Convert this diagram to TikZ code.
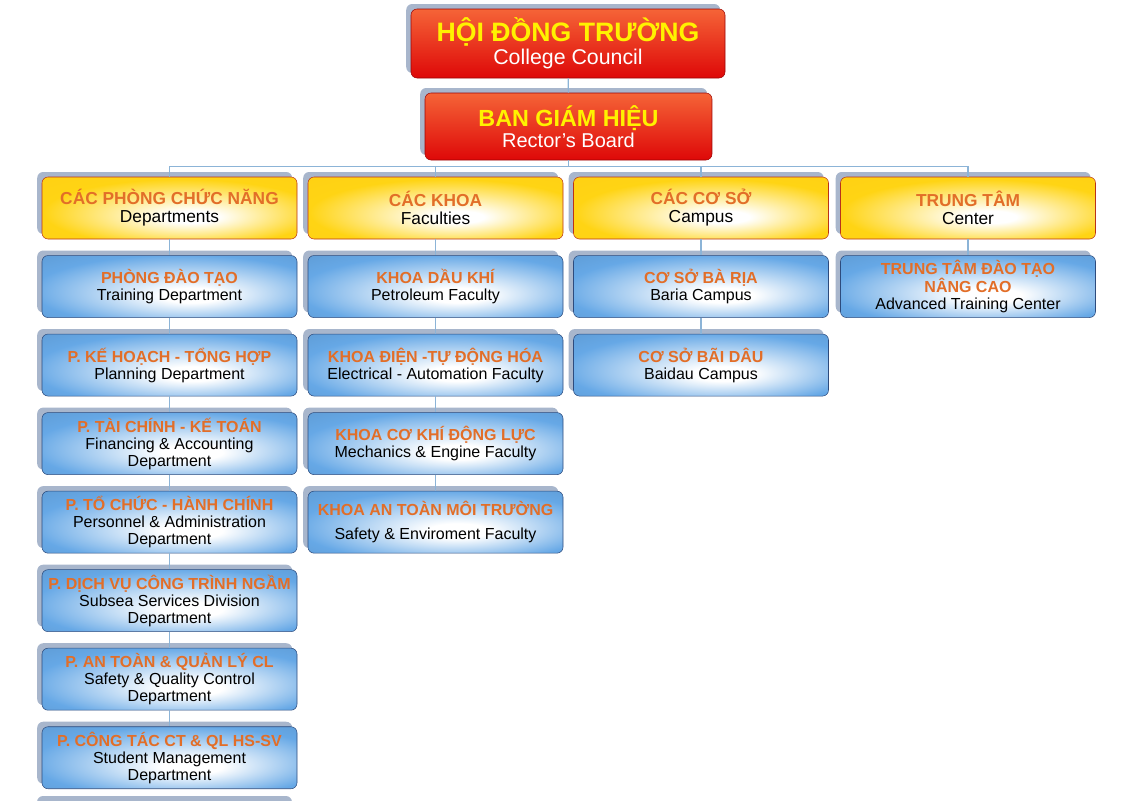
\documentclass[tikz,border=0pt]{standalone}
\usepackage{fontspec}
\setmainfont{Liberation Sans}
\usepackage{xcolor}
\usetikzlibrary{positioning, shadows}
\definecolor{linkblue}{RGB}{140,180,215}
\definecolor{shadowgrey}{RGB}{168,182,204}
\definecolor{glossblue}{RGB}{102,168,230}
\definecolor{glossgold}{RGB}{255,212,20}
\definecolor{navyline}{RGB}{45,75,125}
\definecolor{rustline}{RGB}{185,50,25}
\definecolor{redtop}{RGB}{245,100,55}
\definecolor{redbot}{RGB}{222,8,8}
\definecolor{titleorange}{RGB}{226,110,40}
\definecolor{titleyellow}{RGB}{255,242,0}
% glow sits right of centre and low in the box (box = inner 50bp square)
\pgfdeclareradialshading{bluegloss}{\pgfpoint{5bp}{-8bp}}{color(0bp)=(white); color(6bp)=(white); color(29bp)=(glossblue); color(50bp)=(glossblue!85!black)}
\pgfdeclareradialshading{goldgloss}{\pgfpoint{5bp}{-8bp}}{color(0bp)=(white); color(5bp)=(white); color(27bp)=(glossgold); color(50bp)=(glossgold!92!orange)}
\newcommand{\ttl}[1]{\textcolor{titleorange}{\bfseries #1}}

\begin{document}
\begin{tikzpicture}[x=0.75pt, y=-0.75pt,
  boxbase/.style={rounded corners=4.5pt, align=center, inner sep=0pt,
    general shadow={fill=shadowgrey, shadow xshift=-3.6pt, shadow yshift=3.75pt}},
  redbox/.style={boxbase, draw=redbot!70!black, top color=redtop, bottom color=redbot, text=white},
  headbox/.style={boxbase, draw=rustline, shading=goldgloss, minimum width=191.25pt, minimum height=46.5pt,
    font=\fontsize{13}{13.5}\selectfont},
  deptbox/.style={boxbase, draw=navyline, shading=bluegloss, minimum width=191.25pt, minimum height=46.5pt,
    font=\fontsize{12}{12.75}\selectfont},
  link/.style={draw=linkblue, line width=0.8pt}]
\useasboundingbox (0,0) rectangle (1131,800);

% top of the tree
\node[redbox, minimum width=235.5pt, minimum height=51.75pt] (council) at (568,43.5)
  {{\fontsize{20}{21}\selectfont\bfseries\color{titleyellow}HỘI ĐỒNG TRƯỜNG}\\[1pt]{\fontsize{16}{16}\selectfont College Council}};
\node[redbox, minimum width=215.25pt, minimum height=50.25pt] (rector) at (568.5,126.5)
  {{\fontsize{17.5}{18}\selectfont\bfseries\color{titleyellow}BAN GIÁM HIỆU}\\[1pt]{\fontsize{15}{15}\selectfont Rector's Board}};

% column heads
\node[headbox] (deps) at (169.5,208) {\ttl{CÁC PHÒNG CHỨC NĂNG}\\Departments};
\node[headbox] (facs) at (435.5,208) {\ttl{CÁC KHOA}\\Faculties};
\node[headbox] (camps) at (701,208) {\ttl{CÁC CƠ SỞ}\\Campus};
\node[headbox] (cent) at (968,208) {\ttl{TRUNG TÂM}\\Center};

% departments
\node[deptbox, below=12pt of deps] (train) {\ttl{PHÒNG ĐÀO TẠO}\\Training Department};
\node[deptbox, below=12pt of train] (plan) {\ttl{P. KẾ HOẠCH - TỔNG HỢP}\\Planning Department};
\node[deptbox, below=12pt of plan] (fin) {\ttl{P. TÀI CHÍNH - KẾ TOÁN}\\Financing \& Accounting\\Department};
\node[deptbox, below=12pt of fin] (pers) {\ttl{P. TỔ CHỨC - HÀNH CHÍNH}\\Personnel \& Administration\\Department};
\node[deptbox, below=12pt of pers] (subsea) {\ttl{P. DỊCH VỤ CÔNG TRÌNH NGẦM}\\Subsea Services Division\\Department};
\node[deptbox, below=12pt of subsea] (qual) {\ttl{P. AN TOÀN \& QUẢN LÝ CL}\\Safety \& Quality Control\\Department};
\node[deptbox, below=12pt of qual] (stud) {\ttl{P. CÔNG TÁC CT \& QL HS-SV}\\Student Management\\Department};
\fill[shadowgrey, rounded corners=4.5pt] (37,796) rectangle (292,830); % next box, cut off

% faculties
\node[deptbox, below=12pt of facs] (petro) {\ttl{KHOA DẦU KHÍ}\\Petroleum Faculty};
\node[deptbox, below=12pt of petro] (elec) {\ttl{KHOA ĐIỆN -TỰ ĐỘNG HÓA}\\Electrical - Automation Faculty};
\node[deptbox, below=12pt of elec] (mech) {\ttl{KHOA CƠ KHÍ ĐỘNG LỰC}\\Mechanics \& Engine Faculty};
\node[deptbox, below=12pt of mech] (env) {\ttl{KHOA AN TOÀN MÔI TRƯỜNG}\\[5pt]Safety \& Enviroment Faculty};

% campus and center
\node[deptbox, below=12pt of camps] (baria) {\ttl{CƠ SỞ BÀ RỊA}\\Baria Campus};
\node[deptbox, below=12pt of baria] (baidau) {\ttl{CƠ SỞ BÃI DÂU}\\Baidau Campus};
\node[deptbox, below=12pt of cent] (adv) {\ttl{TRUNG TÂM ĐÀO TẠO}\\\ttl{NÂNG CAO}\\Advanced Training Center};

% connectors
\draw[link] (council) -- (rector);
\foreach \h in {deps,facs,camps,cent}
  \draw[link] (rector.south) -- ++(0,6) -| (\h.north);
\draw[link] (deps) -- (train) -- (plan) -- (fin) -- (pers) -- (subsea) -- (qual) -- (stud);
\draw[link] (facs) -- (petro) -- (elec) -- (mech) -- (env);
\draw[link] (camps) -- (baria) -- (baidau);
\draw[link] (cent) -- (adv);
\end{tikzpicture}
\end{document}
